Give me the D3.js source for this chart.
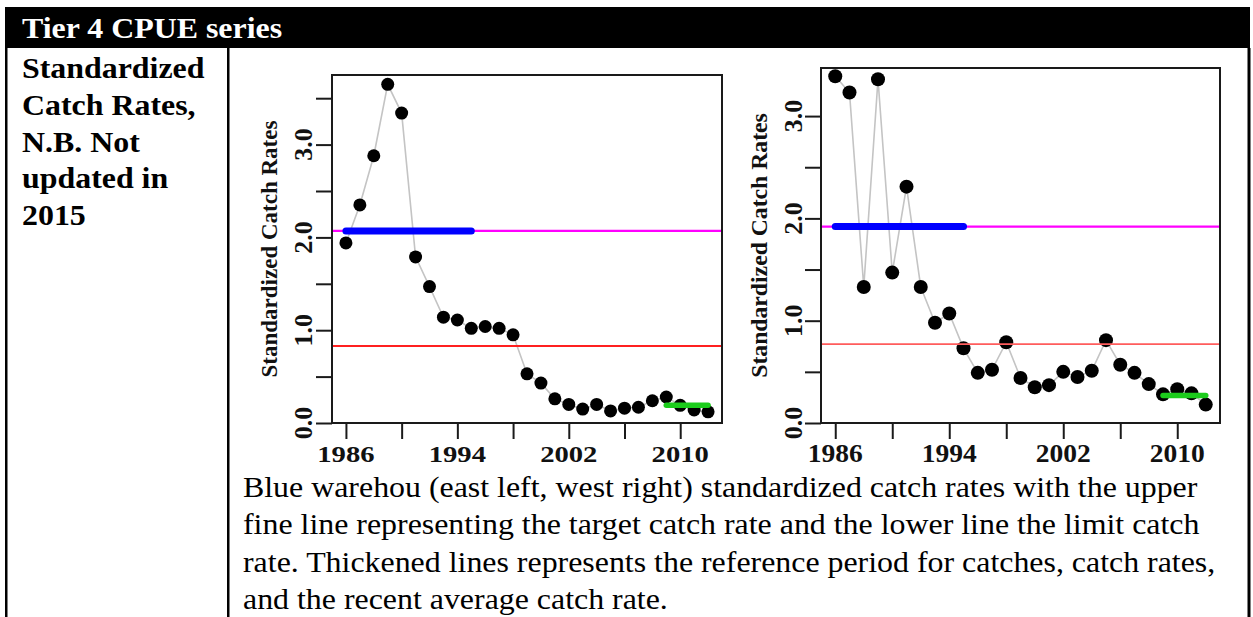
<!DOCTYPE html>
<html>
<head>
<meta charset="utf-8">
<script src="https://cdn.jsdelivr.net/npm/d3@7"></script>
<style>
  body { margin: 0; background: #fff; }
  svg { display: block; }
  text { font-family: "Liberation Serif", "Times New Roman", serif; }
</style>
</head>
<body>
<svg id="page" width="1253" height="617"></svg>
<script>
// years of the CPUE series
var years = [1986, 1987, 1988, 1989, 1990, 1991, 1992, 1993, 1994, 1995, 1996, 1997, 1998, 1999,
             2000, 2001, 2002, 2003, 2004, 2005, 2006, 2007, 2008, 2009, 2010, 2011, 2012];

// standardized catch rates, east (left plot) and west (right plot)
var eastRates = [1.94, 2.35, 2.88, 3.65, 3.34, 1.79, 1.47, 1.14, 1.11, 1.02, 1.04, 1.02, 0.95, 0.53,
                 0.43, 0.26, 0.20, 0.15, 0.20, 0.13, 0.16, 0.17, 0.24, 0.28, 0.19, 0.14, 0.12];
var westRates = [3.39, 3.23, 1.33, 3.36, 1.47, 2.31, 1.33, 0.98, 1.07, 0.73, 0.49, 0.52, 0.79, 0.44,
                 0.35, 0.37, 0.50, 0.45, 0.51, 0.81, 0.57, 0.49, 0.38, 0.28, 0.33, 0.29, 0.18];

// reference lines: [east, west]
var targetRates = [2.07, 1.92];
var limitRates = [0.83, 0.77];
var recentAverage = [0.19, 0.27];
var referencePeriod = [1986, 1995];
var recentPeriod = [2009, 2012];

var xTicks = [1986, 1990, 1994, 1998, 2002, 2006, 2010];
var xLabels = [1986, 1994, 2002, 2010];
var yTicksEast = [0, 0.5, 1, 1.5, 2, 2.5, 3, 3.5];
var yTicksWest = [0, 0.5, 1, 1.5, 2, 2.5, 3];
var yLabels = [0, 1, 2, 3];

var headerText = "Tier 4 CPUE series";
var sideText = ["Standardized", "Catch Rates,", "N.B. Not", "updated in", "2015"];
var captionText = [
  "Blue warehou (east left, west right) standardized catch rates with the upper",
  "fine line representing the target catch rate and the lower line the limit catch",
  "rate. Thickened lines represents the reference period for catches, catch rates,",
  "and the recent average catch rate."
];

var svg = d3.select("#page");

// ---- table frame ----
svg.append("rect").attr("x", 5).attr("y", 7).attr("width", 1245).attr("height", 41).attr("fill", "#000");
svg.append("rect").attr("x", 5).attr("y", 48).attr("width", 2.5).attr("height", 569).attr("fill", "#000");
svg.append("rect").attr("x", 227).attr("y", 48).attr("width", 2.5).attr("height", 569).attr("fill", "#000");
svg.append("rect").attr("x", 1247.5).attr("y", 48).attr("width", 3).attr("height", 569).attr("fill", "#000");

function stretchedText(g, str, x, y, size, weight, fill, sx) {
  g.append("text")
    .attr("transform", "translate(" + x + "," + y + ") scale(" + sx + ",1)")
    .attr("font-size", size)
    .attr("font-weight", weight)
    .attr("fill", fill)
    .text(str);
}

stretchedText(svg, headerText, 22, 38, 29, "bold", "#fff", 1.1);
sideText.forEach(function(s, i) {
  stretchedText(svg, s, 22, 78 + i * 36.8, 29, "bold", "#000", 1.1);
});
captionText.forEach(function(s, i) {
  stretchedText(svg, s, 243, 497 + i * 37.3, 29, "normal", "#000", 1.1);
});

// ---- plots ----
function drawChart(cfg) {
  var g = svg.append("g");
  var x = d3.scaleLinear().domain([1985, 2013]).range([cfg.left, cfg.right]);
  var y = d3.scaleLinear().domain([0, cfg.yMax]).range([cfg.bottom, cfg.top]);

  var line = d3.line().x(function(d, i) { return x(years[i]); }).y(function(d) { return y(d); });

  g.append("path")
    .datum(cfg.rates)
    .attr("d", line)
    .attr("fill", "none")
    .attr("stroke", "#c4c4c4")
    .attr("stroke-width", 1.6);

  g.selectAll(".pt")
    .data(cfg.rates)
    .enter().append("circle")
    .attr("cx", function(d, i) { return x(years[i]); })
    .attr("cy", function(d) { return y(d); })
    .attr("r", cfg.r)
    .attr("fill", "#000");

  // target and limit lines across the plot region
  g.append("line")
    .attr("x1", cfg.left).attr("x2", cfg.right)
    .attr("y1", y(cfg.target)).attr("y2", y(cfg.target))
    .attr("stroke", "#ff00ff").attr("stroke-width", 2.2);
  g.append("line")
    .attr("x1", cfg.left).attr("x2", cfg.right)
    .attr("y1", y(cfg.limit)).attr("y2", y(cfg.limit))
    .attr("stroke", cfg.limitColor).attr("stroke-width", 1.8);

  // thickened reference and recent lines
  g.append("line")
    .attr("x1", x(referencePeriod[0])).attr("x2", x(referencePeriod[1]))
    .attr("y1", y(cfg.target)).attr("y2", y(cfg.target))
    .attr("stroke", "#0000ff").attr("stroke-width", 7).attr("stroke-linecap", "round");
  g.append("line")
    .attr("x1", x(recentPeriod[0])).attr("x2", x(recentPeriod[1]))
    .attr("y1", y(cfg.recent)).attr("y2", y(cfg.recent))
    .attr("stroke", "#1ccc1c").attr("stroke-width", 5.5).attr("stroke-linecap", "round");

  // box
  g.append("rect")
    .attr("x", cfg.left).attr("y", cfg.top)
    .attr("width", cfg.right - cfg.left).attr("height", cfg.bottom - cfg.top)
    .attr("fill", "none").attr("stroke", "#1a1a1a").attr("stroke-width", 2);

  // axes (ticks only, labels drawn below)
  var xAxis = d3.axisBottom(x).tickValues(xTicks).tickSize(16).tickFormat("");
  var gx = g.append("g").attr("transform", "translate(0," + cfg.bottom + ")").call(xAxis);
  var yAxis = d3.axisLeft(y).tickValues(cfg.yTicks).tickSize(16).tickFormat("");
  var gy = g.append("g").attr("transform", "translate(" + cfg.left + ",0)").call(yAxis);
  [gx, gy].forEach(function(a) {
    a.select(".domain").remove();
    a.selectAll(".tick line").attr("stroke", "#1a1a1a").attr("stroke-width", 2);
  });

  xLabels.forEach(function(v) {
    g.append("text")
      .attr("transform", "translate(" + x(v) + ",462) scale(" + cfg.xLabelStretch + ",1)")
      .attr("text-anchor", "middle")
      .attr("font-size", cfg.xLabelSize)
      .attr("font-weight", "bold")
      .attr("fill", "#111")
      .text(v);
  });

  yLabels.forEach(function(v) {
    g.append("text")
      .attr("transform", "translate(" + cfg.yLabelX + "," + y(v) + ") rotate(-90)")
      .attr("text-anchor", "middle")
      .attr("font-size", 26)
      .attr("font-weight", "bold")
      .attr("fill", "#111")
      .text(d3.format(".1f")(v));
  });

  g.append("text")
    .attr("transform", "translate(" + cfg.titleX + "," + ((cfg.top + cfg.bottom) / 2) + ") rotate(-90)")
    .attr("text-anchor", "middle")
    .attr("font-size", cfg.titleSize)
    .attr("font-weight", "bold")
    .attr("fill", "#111")
    .text("Standardized Catch Rates");
}

drawChart({
  left: 332, right: 722, top: 75, bottom: 423, yMax: 3.75,
  rates: eastRates, target: targetRates[0], limit: limitRates[0], recent: recentAverage[0],
  yTicks: yTicksEast, r: 6.5, limitColor: "#ff2020",
  xLabelSize: 23.5, xLabelStretch: 1.22, yLabelX: 312, titleX: 277, titleSize: 23
});

drawChart({
  left: 821, right: 1220, top: 68, bottom: 423, yMax: 3.47,
  rates: westRates, target: targetRates[1], limit: limitRates[1], recent: recentAverage[1],
  yTicks: yTicksWest, r: 7, limitColor: "#ff5c5c",
  xLabelSize: 25, xLabelStretch: 1.1, yLabelX: 802, titleX: 767, titleSize: 23.7
});
</script>
</body>
</html>
